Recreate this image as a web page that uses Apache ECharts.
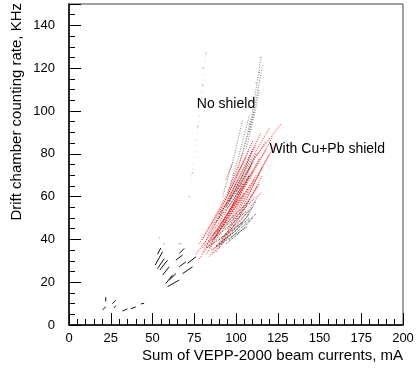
<!DOCTYPE html>
<html>
<head>
<meta charset="utf-8">
<script src="https://cdn.jsdelivr.net/npm/echarts@6/dist/echarts.min.js"></script>
<style>html,body{margin:0;padding:0;background:#fff;}#c{width:420px;height:368px;}</style>
</head>
<body>
<div id="c"></div>
<script>
// ---- data (x: sum of beam currents, mA; y: counting rate, KHz) ----
var xTitle = 'Sum of VEPP-2000 beam currents, mA';
var yTitle = 'Drift chamber counting rate, KHz';
var noShieldLabel = 'No shield';
var shieldLabel = 'With Cu+Pb shield';

// short low-current runs (no shield)
var lowStreaks = [
  [[20,7],[22,8.5]], [[22,11],[22,13]], [[26,10],[28,11.5]], [[27,8],[28,9]],
  [[32,6.5],[35,7.5]], [[37,7.5],[40,8.5]], [[43,9.8],[45,10.2]],
  [[51.6,28],[56,34.2]], [[53,26.4],[57,31]], [[54.4,25.7],[59,30.3]],
  [[56,23.3],[60,27.2]], [[58,19.4],[62,23.3]], [[59,17.9],[66,21]],
  [[64,30.3],[68,32.7]], [[66,33.4],[69,35.8]], [[68,24],[74,27.2]],
  [[71,28.8],[76,31.9]], [[53,33],[55,36]], [[66,27.2],[70,29.5]],
  [[60,21],[64,24]]
];

// with Cu+Pb shield (red)
var shieldStreaks = [
  [[76,33],[90,48],[104,66]], [[78,31],[92,46],[107,64]], [[80,34],[95,52],[110,72]],
  [[82,33],[97,50],[112,70]], [[84,32],[98,47],[113,65]], [[86,33],[100,48],[114,66]],
  [[88,34],[102,50],[116,70]], [[78,38],[92,56],[106,78]], [[80,40],[94,60],[108,82]],
  [[83,42],[96,62],[110,86]], [[86,45],[100,66],[115,90]], [[90,50],[105,72],[120,92]],
  [[94,55],[108,75],[127,94]], [[92,40],[104,55],[116,74]], [[90,36],[102,48],[115,62]],
  [[95,45],[108,62],[120,80]], [[98,50],[110,66],[124,85]], [[80,36],[88,44],[100,58]],
  [[85,38],[95,50],[105,62]], [[88,42],[98,56],[108,70]], [[96,60],[104,72],[112,84]],
  [[100,62],[110,76],[118,86]], [[95,62],[100,72],[104,80]], [[94,68],[98,76]],
  [[82,37],[93,50],[103,60]], [[87,40],[99,54],[111,68]],
  [[84,36],[96,52],[108,70]], [[90,44],[102,60],[114,78]], [[92,48],[104,64],[118,82]],
  [[86,40],[97,55],[109,74]], [[96,52],[108,68],[122,88]], [[81,38],[91,52],[101,68]]
];

// no shield, main run (black)
var noShieldStreaks = [
  [[82,36],[92,41],[104,48]], [[85,35],[95,40],[107,46]], [[88,37],[98,43],[108,50]],
  [[84,39],[94,45],[106,53]], [[90,40],[100,47],[110,55]], [[86,42],[96,49],[108,58]],
  [[92,45],[102,52],[112,60]], [[88,48],[98,58],[108,70]], [[90,52],[100,63],[110,76]],
  [[94,55],[104,67],[112,80]], [[96,58],[104,70],[110,82]],
  [[94,38],[102,43],[110,50]], [[96,40],[104,46],[112,52]], [[90,38],[100,44],[108,52]],
  [[98,44],[106,50],[112,58]]
];
var noShieldFaint = [
  [[92,60],[98,76],[104,96]], [[96,64],[102,80],[108,98]], [[100,70],[106,86],[111,100]],
  [[104,80],[110,100],[115,125]], [[106,82],[111,98],[114,110]], [[108,90],[112,105],[116,122]]
];
var noShieldSparse = [
  [[73,67],[77,90],[82,127]]
];
var strayDots = [
  [82,127],[80,120],[80,112],[77,93],[115,125],[112,113],[110,104],[54,40.6],[66,38],
  [57,38],[74,71],[72,60],[67,38],[114,118],[108,94]
];
var noShieldLabelPos = [94, 103];
var shieldLabelPos = [120, 82];

// ---- chart ----
var series = [];
function addStreaks(list, color, opacity, dash) {
  list.forEach(function (s) {
    series.push({
      type: 'line', data: s, showSymbol: false, silent: true, animation: false,
      lineStyle: { width: 1, type: dash, color: color, opacity: opacity }
    });
  });
}
addStreaks(noShieldSparse, '#aaa', 0.5, [1, 5]);
addStreaks(noShieldFaint, '#666', 0.8, [1, 1.5]);
addStreaks(shieldStreaks, '#ff1010', 0.85, [1, 1.2]);
addStreaks(noShieldStreaks, '#111', 0.75, [1, 1]);
lowStreaks.forEach(function (s) {
  series.push({ type: 'line', data: s, showSymbol: false, silent: true, animation: false,
    lineStyle: { width: 1, color: '#111' } });
});
series.push({ type: 'scatter', data: strayDots, symbolSize: 1.5, silent: true,
  animation: false, itemStyle: { color: '#999' } });
var annStyle = { show: true, color: '#000', opacity: 1, fontSize: 14, fontFamily: 'Liberation Sans',
  textBorderWidth: 0 };
series.push({ type: 'scatter', data: [noShieldLabelPos], symbolSize: 0, silent: true, animation: false,
  label: Object.assign({ position: 'inside', formatter: noShieldLabel }, annStyle) });
series.push({ type: 'scatter', data: [shieldLabelPos], symbolSize: 0, silent: true, animation: false,
  label: Object.assign({ position: 'right', distance: 0, formatter: shieldLabel }, annStyle) });

var labelStyle = { color: '#000', fontSize: 13, fontFamily: 'Liberation Sans' };
var chart = echarts.init(document.getElementById('c'), null, { renderer: 'canvas' });
chart.setOption({
  animation: false,
  backgroundColor: '#fff',
  grid: { left: 69, right: 17, top: 4, bottom: 43, show: true, borderColor: '#444', borderWidth: 1 },
  xAxis: [{
    type: 'value', min: 0, max: 200, interval: 25,
    axisLine: { lineStyle: { color: '#000', width: 1.5 } },
    axisTick: { inside: true, length: 12, lineStyle: { color: '#000', width: 1 } },
    minorTick: { show: true, splitNumber: 5, length: 6, lineStyle: { color: '#000', width: 1 } },
    splitLine: { show: false },
    axisLabel: Object.assign({ margin: 7 }, labelStyle),
    name: xTitle, nameLocation: 'end', nameGap: 0,
    nameTextStyle: { color: '#000', fontSize: 15, fontFamily: 'Liberation Sans', align: 'right',
      verticalAlign: 'top', padding: [23, 0, 0, 0] }
  }],
  yAxis: [{
    type: 'value', min: 0, max: 150, interval: 20,
    axisLine: { lineStyle: { color: '#000', width: 1.5 } },
    axisTick: { inside: true, length: 12, lineStyle: { color: '#000', width: 1 } },
    minorTick: { show: true, splitNumber: 4, length: 6, lineStyle: { color: '#000', width: 1 } },
    splitLine: { show: false },
    axisLabel: Object.assign({ margin: 14, showMaxLabel: false,
      formatter: function (v) { return v % 20 === 0 ? String(v) : ''; } }, labelStyle)
  }],
  graphic: [{
    type: 'text', x: 17, y: 3, rotation: Math.PI / 2, silent: true,
    style: { text: yTitle, fill: '#000', fontSize: 15, fontFamily: 'Liberation Sans',
      textAlign: 'right', textVerticalAlign: 'middle' }
  }],
  series: series
});
</script>
</body>
</html>
